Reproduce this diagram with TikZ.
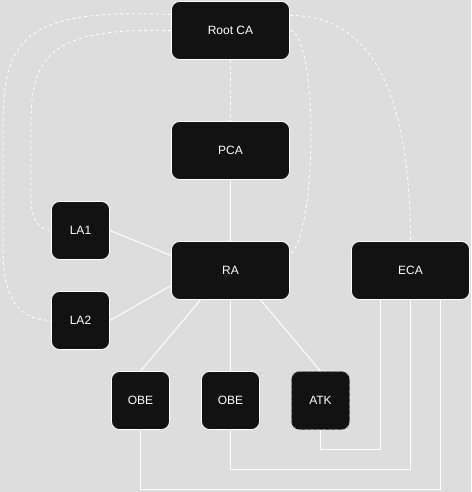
\documentclass[tikz,border=0pt]{standalone}
\usepackage{fontspec}
\setmainfont{Liberation Sans}
\usetikzlibrary{calc}
\definecolor{bgcol}{HTML}{DDDDDD}
\definecolor{boxcol}{HTML}{121212}
\tikzset{
 box/.style={draw=white, fill=boxcol, text=white, line width=0.8pt, rounded corners=8pt,
  minimum width=118pt, minimum height=58pt, inner sep=0pt, font=\fontsize{12}{14}\selectfont},
 smallbox/.style={box, minimum width=58pt},
 link/.style={draw=white, line width=1pt},
 trust/.style={draw=white, line width=0.8pt, dash pattern=on 3pt off 3pt}
}
\begin{document}
\begin{tikzpicture}[x=1pt, y=-1pt, line join=round]
 \fill[bgcol] (0,0) rectangle (471,492);
 \useasboundingbox (0,0) rectangle (471,492);
 % certificate authorities
 \node[box] (root) at (230.5,30.5) {Root CA};
 \node[box] (pca) at (230.5,150.5) {PCA};
 \node[box] (ra) at (230.5,270.5) {RA};
 \node[box] (eca) at (410.5,270.5) {ECA};
 \node[smallbox] (la1) at (80.5,230.5) {LA1};
 \node[smallbox] (la2) at (80.5,320.5) {LA2};
 % end entities
 \node[smallbox] (obe1) at (140.5,400.5) {OBE};
 \node[smallbox] (obe2) at (230.5,400.5) {OBE};
 \node[smallbox, draw=gray, dashed] (atk) at (320.5,400.5) {ATK};
 % solid links
 \draw[link] (pca) -- (ra);
 \draw[link] (la1.east) -- ($(ra.west)+(0,-15)$);
 \draw[link] (la2.east) -- ($(ra.west)+(0,15)$);
 \draw[link] ($(ra.south)+(-30,0)$) -- (obe1.north);
 \draw[link] (ra.south) -- (obe2.north);
 \draw[link] ($(ra.south)+(30,0)$) -- (atk.north);
 \foreach \dx/\dy/\to in {-30/150/atk, 0/170/obe2, 30/190/obe1}
 \draw[link] ($(eca.south)+(\dx,0)$) -- ++(0,\dy) -| (\to.south);
 % trust relations from the root
 \draw[trust] (root) -- (pca);
 \draw[trust] ($(root.west)+(0,-16)$) .. controls (20,8) and (3,40) .. (3,130)
  -- (3,250) .. controls (3,300) and (20,320) .. (la2.west);
 \draw[trust] (root.west) .. controls (60,28) and (31,50) .. (31,120)
  -- (31,200) .. controls (31,220) and (40,230) .. (la1.west);
 \draw[trust] ($(root.east)+(0,-15)$) .. controls (385,15) and (410,120) .. (eca.north);
 \draw[trust] (root.east) .. controls (318,35) and (318,230) .. ($(ra.east)+(0,-15)$);
\end{tikzpicture}
\end{document}
